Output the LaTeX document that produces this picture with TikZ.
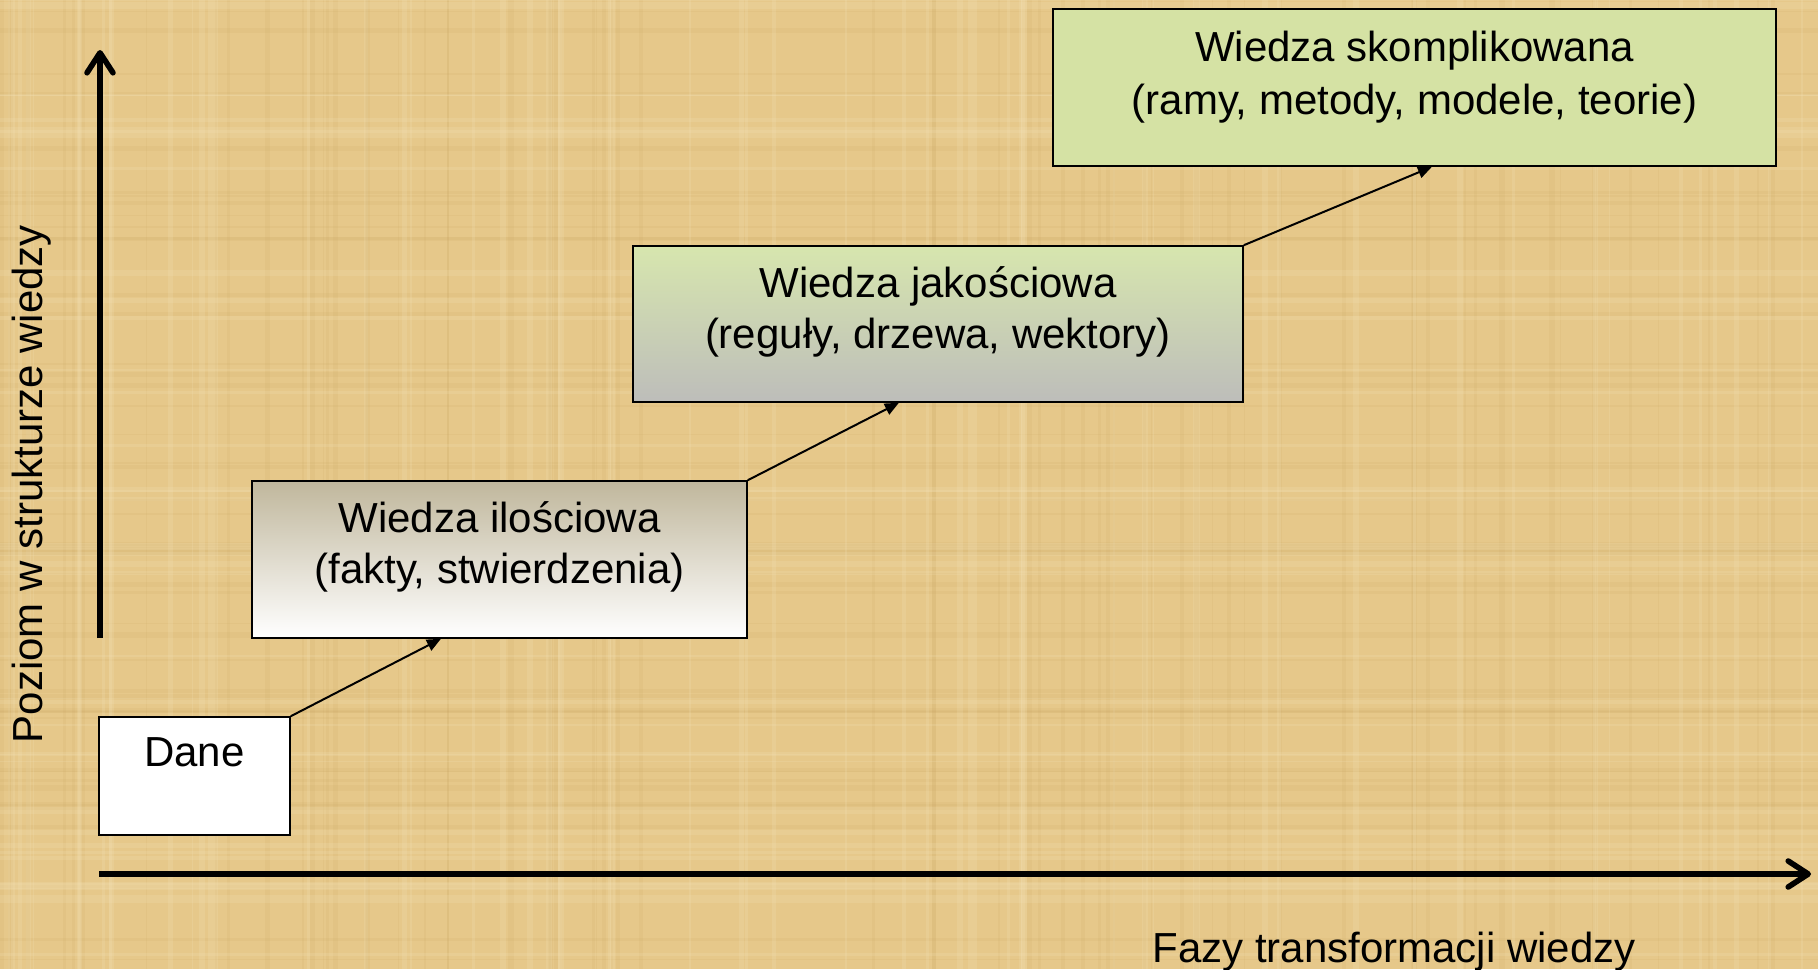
\documentclass[tikz,border=0pt]{standalone}
\usepackage{fontspec}
\setmainfont{Liberation Sans}
\usetikzlibrary{arrows.meta,calc}

\definecolor{papyrus}{HTML}{E6C88A}
\definecolor{fibredark}{HTML}{C29C58}
\definecolor{fibrelight}{HTML}{F6E6BC}
\definecolor{leaf}{HTML}{D5E2A4}
\definecolor{leafpale}{HTML}{D7E6AE}
\definecolor{stone}{HTML}{BDBDBA}
\definecolor{sand}{HTML}{C0B79C}

\tikzset{
  stagebox/.style={draw=black, line width=0.8pt, rectangle, inner sep=0pt},
  boxtext/.style={anchor=north, inner sep=0pt, align=center, yshift=-10.6pt},
  axisline/.style={line width=2.8pt, -{Straight Barb[length=10pt,width=13pt,round]}},
  link/.style={line width=1pt, -{Triangle[length=7pt,width=6pt]}},
}

\begin{document}
\begin{tikzpicture}[x=0.5pt, y=-0.5pt, font=\fontsize{21}{25.5}\selectfont]
  % papyrus sheet
  \fill[papyrus] (0,0) rectangle (1818,969);
  \useasboundingbox (0,0) rectangle (1818,969);
  \pgfmathsetseed{11}
  \begin{scope}
    \clip (0,0) rectangle (1818,969);
    \foreach \i in {1,...,70}{
      \pgfmathsetmacro{\fx}{rnd*1818}
      \pgfmathsetmacro{\fw}{0.4+rnd*2.5}
      \draw[fibredark, opacity=0.10, line width=\fw pt] (\fx,0) -- (\fx,969);
    }
    \foreach \i in {1,...,50}{
      \pgfmathsetmacro{\fy}{rnd*969}
      \pgfmathsetmacro{\fw}{0.4+rnd*2.5}
      \draw[fibredark, opacity=0.10, line width=\fw pt] (0,\fy) -- (1818,\fy);
    }
    \foreach \i in {1,...,60}{
      \pgfmathsetmacro{\fx}{rnd*1818}
      \pgfmathsetmacro{\fw}{0.5+rnd*3}
      \draw[fibrelight, opacity=0.18, line width=\fw pt] (\fx,0) -- (\fx,969);
    }
    \foreach \i in {1,...,40}{
      \pgfmathsetmacro{\fy}{rnd*969}
      \pgfmathsetmacro{\fw}{0.5+rnd*3}
      \draw[fibrelight, opacity=0.18, line width=\fw pt] (0,\fy) -- (1818,\fy);
    }
  \end{scope}

  % axes
  \coordinate (yfoot) at (100,638);
  \coordinate (ytip)  at (100,50);
  \coordinate (xfoot) at (99,874);
  \coordinate (xtip)  at (1811,874);
  \draw[axisline] (yfoot) -- (ytip);
  \draw[axisline] (xfoot) -- (xtip);

  \node[rotate=90] (ylabel) at (32,484) {Poziom w strukturze wiedzy};
  \node (xlabel) at (1394,952) {Fazy transformacji wiedzy};

  % stages of knowledge
  \node[stagebox, fill=white, minimum width=95.5pt, minimum height=59pt,
        label={[boxtext]north:Dane}] (dane) at (194.5,776) {};
  \node[stagebox, top color=sand, bottom color=white,
        minimum width=247.5pt, minimum height=78.5pt,
        label={[boxtext]north:{Wiedza ilościowa\\(fakty, stwierdzenia)}}] (ilosc) at (499.5,559.5) {};
  \node[stagebox, top color=leafpale, bottom color=stone,
        minimum width=305pt, minimum height=78pt,
        label={[boxtext]north:{Wiedza jakościowa\\(reguły, drzewa, wektory)}}] (jakosc) at (938,324) {};
  \node[stagebox, fill=leaf,
        minimum width=361.5pt, minimum height=78.5pt,
        label={[boxtext, yshift=-0.6pt]north:{Wiedza skomplikowana\\[1pt](ramy, metody, modele, teorie)}}] (skompl) at (1414.5,87.5) {};

  % transitions
  \draw[link] (dane.north east) -- ($(ilosc.south west)!0.382!(ilosc.south east)$);
  \draw[link] (ilosc.north east) -- ($(jakosc.south west)!0.436!(jakosc.south east)$);
  \draw[link] (jakosc.north east) -- ($(skompl.south west)!0.524!(skompl.south east)$);
\end{tikzpicture}
\end{document}
